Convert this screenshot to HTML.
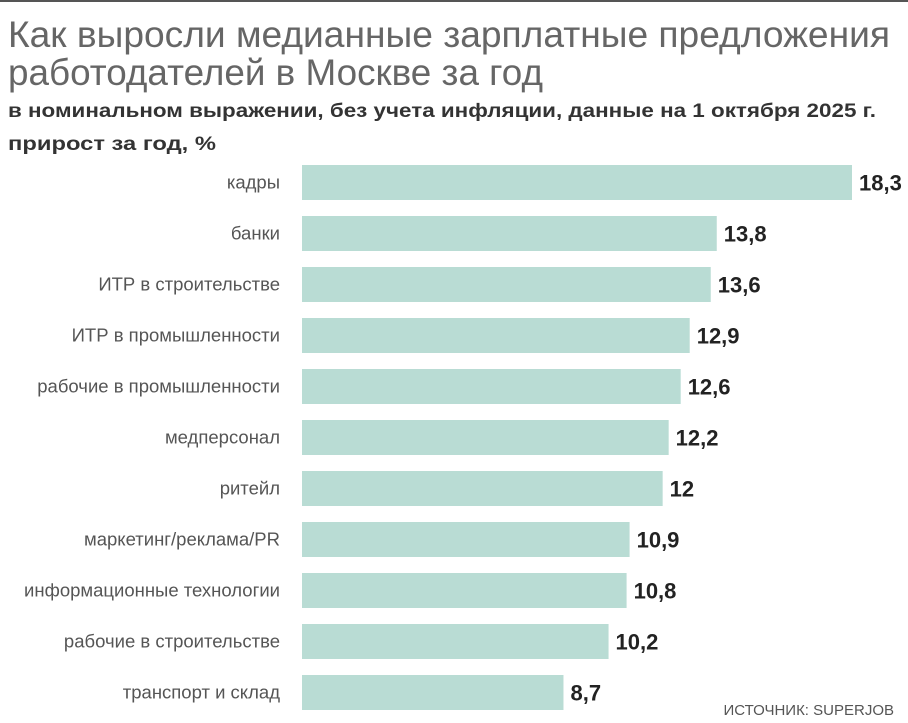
<!DOCTYPE html>
<html><head><meta charset="utf-8"><style>
html,body{margin:0;padding:0;background:#fff;}
svg{display:block;font-family:"Liberation Sans","DejaVu Sans",sans-serif;}
</style></head><body>
<svg id="chart" width="908" height="723" viewBox="0 0 908 723">
<rect x="0" y="0" width="908" height="2" fill="#555"/>
<text x="8" y="47" font-size="37" fill="#666" textLength="882" lengthAdjust="spacingAndGlyphs">Как выросли медианные зарплатные предложения</text>
<text x="8" y="85" font-size="37" fill="#666" textLength="535" lengthAdjust="spacingAndGlyphs">работодателей в Москве за год</text>
<text x="8" y="117" font-size="19" font-weight="bold" fill="#333" textLength="868" lengthAdjust="spacingAndGlyphs">в номинальном выражении, без учета инфляции, данные на 1 октября 2025 г.</text>
<text x="8" y="150" font-size="19" font-weight="bold" fill="#333" textLength="208" lengthAdjust="spacingAndGlyphs">прирост за год,  %</text>
<g id="bars"></g>
<text x="894" y="715" font-size="15" fill="#555" text-anchor="end">ИСТОЧНИК: SUPERJOB</text>
</svg>
<script>
const categories = ["кадры","банки","ИТР в строительстве","ИТР в промышленности","рабочие в промышленности","медперсонал","ритейл","маркетинг/реклама/PR","информационные технологии","рабочие в строительстве","транспорт и склад"];
const values = [18.3,13.8,13.6,12.9,12.6,12.2,12,10.9,10.8,10.2,8.7];
const valueLabels = ["18,3","13,8","13,6","12,9","12,6","12,2","12","10,9","10,8","10,2","8,7"];
const x0 = 302, pxPerUnit = 550/18.3, top0 = 165, pitch = 51, bh = 35;
const xScale = v => x0 + v * pxPerUnit;
const yScale = i => top0 + i * pitch;
const ns = "http://www.w3.org/2000/svg";
const g = document.getElementById("bars");
categories.forEach((c, i) => {
  const y = yScale(i);
  const r = document.createElementNS(ns, "rect");
  r.setAttribute("x", x0); r.setAttribute("y", y);
  r.setAttribute("width", xScale(values[i]) - x0); r.setAttribute("height", bh);
  r.setAttribute("fill", "#b9dcd4");
  
  
  g.appendChild(r);
  const l = document.createElementNS(ns, "text");
  l.setAttribute("x", 280); l.setAttribute("y", y + bh/2 + 6);
  l.setAttribute("text-anchor", "end"); l.setAttribute("font-size", "18.5");
  l.setAttribute("fill", "#555"); l.textContent = c;
  
  
  g.appendChild(l);
  const v = document.createElementNS(ns, "text");
  v.setAttribute("x", xScale(values[i]) + 7); v.setAttribute("y", y + bh/2 + 8);
  v.setAttribute("font-size", "22"); v.setAttribute("font-weight", "bold");
  v.setAttribute("fill", "#222"); v.textContent = valueLabels[i];
  
  
  g.appendChild(v);
});
</script>
</body></html>
